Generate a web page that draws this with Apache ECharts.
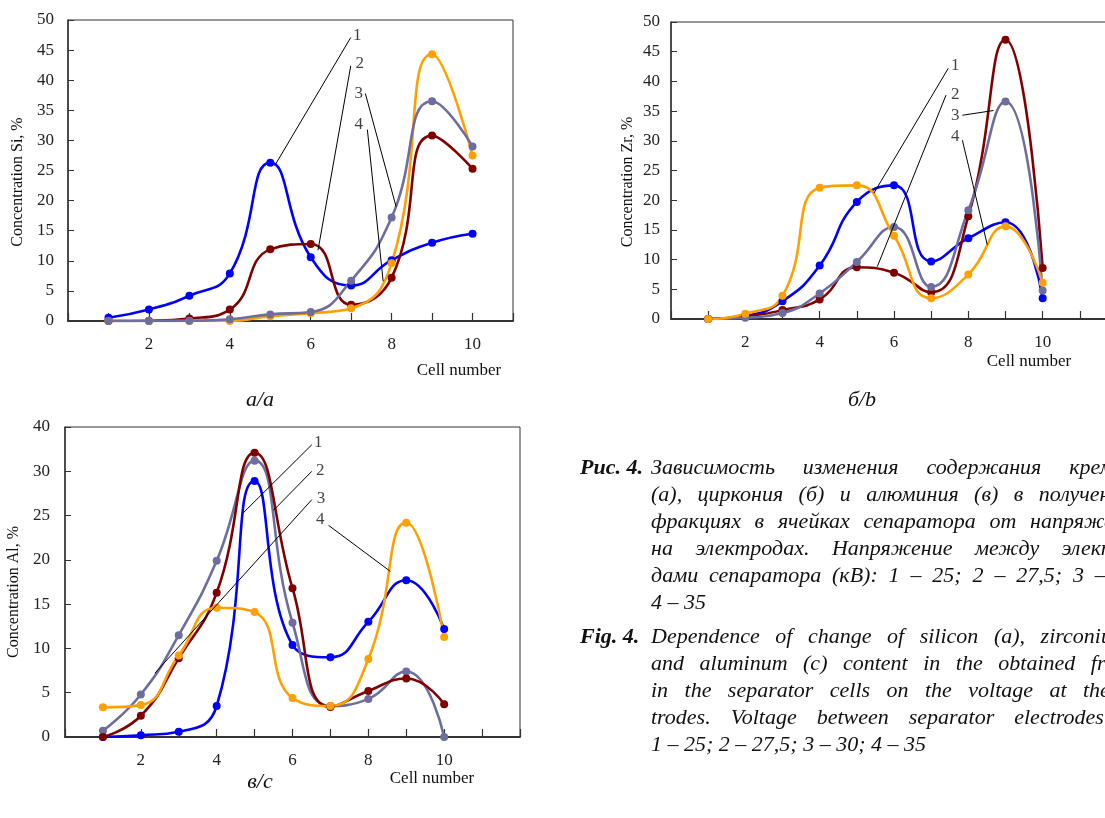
<!DOCTYPE html>
<html><head><meta charset="utf-8">
<script src="https://cdn.jsdelivr.net/npm/echarts/dist/echarts.min.js"></script>
<style>
html,body{margin:0;padding:0;width:1105px;height:818px;overflow:hidden;background:#fff;position:relative;}
#chart{position:absolute;left:0;top:0;width:1130px;height:818px;}
.cap{position:absolute;font-family:'Liberation Serif','Times New Roman',serif;font-style:italic;font-size:22px;line-height:27px;color:#111;white-space:nowrap;}
.lead{font-weight:bold;}
.j{text-align:justify;text-align-last:justify;white-space:normal;}
</style>
</head><body>
<div id="chart"></div>
<div class="cap lead" style="left:580px;top:453px;">Рис. 4.</div>
<div class="cap" style="left:651px;top:453px;width:495px;">
<div class="j">Зависимость изменения содержания кремния</div>
<div class="j">(а), циркония (б) и алюминия (в) в полученных</div>
<div class="j">фракциях в ячейках сепаратора от напряжения</div>
<div class="j">на электродах. Напряжение между электро-</div>
<div class="j">дами сепаратора (кВ): 1 – 25; 2 – 27,5; 3 – 30;</div>
<div>4 – 35</div>
</div>
<div class="cap lead" style="left:580px;top:622px;">Fig. 4.</div>
<div class="cap" style="left:651px;top:622px;width:518px;">
<div class="j">Dependence of change of silicon (a), zirconium (b)</div>
<div class="j">and aluminum (c) content in the obtained fractions</div>
<div class="j">in the separator cells on the voltage at the elec-</div>
<div class="j">trodes. Voltage between separator electrodes (kV):</div>
<div>1 – 25; 2 – 27,5; 3 – 30; 4 – 35</div>
</div>
<script>
// ---- data ----
const cells = [1, 2, 3, 4, 5, 6, 7, 8, 9, 10];
const xTickLabels = ['2', '4', '6', '8', '10'];
// (a) Si
const si1 = [0.55, 1.9, 4.2, 7.9, 26.3, 10.6, 5.9, 10.1, 13.0, 14.5];
const si2 = [0, 0.05, 0.4, 1.9, 11.9, 12.8, 2.7, 7.2, 30.8, 25.3];
const si3 = [0, 0, 0.05, 0.3, 1.1, 1.5, 6.7, 17.2, 36.5, 29.0];
const si4 = [0, 0, 0, 0, 0.8, 1.3, 2.1, 9.6, 44.3, 27.5];
// (b) Zr
const zr1 = [0, 0.5, 3.0, 9.0, 19.7, 22.5, 9.7, 13.6, 16.3, 3.5];
const zr2 = [0, 0.4, 1.5, 3.3, 8.7, 7.8, 4.5, 17.3, 47.0, 8.6];
const zr3 = [0, 0.2, 1.0, 4.3, 9.6, 15.5, 5.4, 18.3, 36.6, 4.8];
const zr4 = [0, 0.9, 3.9, 22.1, 22.5, 14.0, 3.5, 7.5, 15.6, 6.1];
// (c) Al  (axis drawn 0..35, top tick labelled "40" as in the source)
const al1 = [0, 0.2, 0.6, 3.5, 28.9, 10.4, 9.0, 13.0, 17.7, 12.2];
const al2 = [0, 2.4, 8.9, 16.3, 32.1, 16.8, 3.4, 5.2, 6.6, 3.7];
const al3 = [0.7, 4.8, 11.5, 19.9, 31.2, 12.9, 3.5, 4.3, 7.4, 0];
const al4 = [3.35, 3.6, 9.2, 14.6, 14.1, 4.4, 3.5, 8.8, 24.2, 11.3];
const yTickLabelsA = ['0','5','10','15','20','25','30','35','40','45','50'];
const yTickLabelsC = ['0','5','10','15','20','25','30','40'];
const curveNames = ['1', '2', '3', '4'];
// annotation leaders: [x1, y1, x2, y2] in data units; label anchors [x, y]
const leadA = [[6.99,47.1,5.11,25.8],[6.99,42.4,6.18,11.75],[7.35,37.8,8.11,19.0],[7.40,31.8,7.79,6.6]];
const labA = [[7.15,47.5],[7.21,42.7],[7.19,37.8],[7.19,32.6]];
const leadB = [[7.46,42.2,5.46,21.2],[7.40,37.7,5.55,8.8],[7.84,34.3,8.68,35.1],[7.84,30.1,8.51,12.5]];
const labB = [[7.65,42.6],[7.65,37.8],[7.65,34.3],[7.65,30.8]];
const leadC = [[6.51,33.0,4.70,25.3],[6.51,30.0,5.50,25.6],[6.51,26.8,2.37,7.2],[6.95,23.9,8.58,18.7]];
const labC = [[6.68,33.3],[6.73,30.1],[6.75,26.9],[6.73,24.5]];

// ---- styling ----
const colors = ['#0000ff', '#800000', '#6e6e9e', '#ffa000'];
const FONT = '"Liberation Serif", "Times New Roman", serif';
const TXT = '#222';

const chart = echarts.init(document.getElementById('chart'), null, {renderer: 'canvas'});

const grids = [
  {left: 68, top: 20, width: 445, height: 301},
  {left: 671, top: 22, width: 446, height: 297},
  {left: 65, top: 427, width: 455, height: 310}
];
const xMax = [11, 12, 12];
const yMax = [50, 50, 35];
const yLabels = [yTickLabelsA, yTickLabelsA, yTickLabelsC];
const yMargin = [14, 11, 15];
const drawOrder = [[0, 1, 3, 2], [0, 1, 2, 3], [0, 2, 1, 3]];

const xAxes = grids.map((g, i) => ({
  gridIndex: i, type: 'value', min: 0, max: xMax[i], interval: 1,
  axisLine: {lineStyle: {color: '#333', width: 2}},
  axisTick: {inside: true, length: 8, lineStyle: {color: '#333', width: 1.2}},
  splitLine: {show: false},
  axisLabel: {
    margin: 15, color: TXT, fontFamily: FONT, fontSize: 17,
    formatter: v => xTickLabels.includes(String(v)) ? String(v) : ''
  }
}));
const yAxes = grids.map((g, i) => ({
  gridIndex: i, type: 'value', min: 0, max: yMax[i], interval: 5,
  axisLine: {show: true, lineStyle: {color: '#333', width: 1.5}},
  axisTick: {show: true, inside: true, length: 6, lineStyle: {color: '#333'}},
  splitLine: {show: false},
  axisLabel: {
    margin: yMargin[i], color: TXT, fontFamily: FONT, fontSize: 17,
    formatter: v => yLabels[i][Math.round(v / 5)]
  }
}));

const seriesSets = [[si1, si2, si3, si4], [zr1, zr2, zr3, zr4], [al1, al2, al3, al4]];
const leads = [leadA, leadB, leadC];
const labs = [labA, labB, labC];
const series = [];
seriesSets.forEach((set, gi) => {
  drawOrder[gi].forEach((si) => {
    const arr = set[si];
    series.push({
      type: 'line', name: curveNames[si], xAxisIndex: gi, yAxisIndex: gi,
      data: cells.map((c, k) => [c, arr[k]]),
      smooth: 0.5, symbol: 'circle', symbolSize: 8,
      lineStyle: {color: colors[si], width: 2.6},
      itemStyle: {color: colors[si]},
      animation: false, z: 3
    });
  });
  series.push({
    type: 'lines', coordinateSystem: 'cartesian2d', xAxisIndex: gi, yAxisIndex: gi,
    data: leads[gi].map(l => ({coords: [[l[0], l[1]], [l[2], l[3]]]})),
    lineStyle: {color: '#000', width: 1, opacity: 1},
    symbol: ['none', 'none'], silent: true, animation: false, z: 4
  });
  series.push({
    type: 'scatter', xAxisIndex: gi, yAxisIndex: gi,
    data: labs[gi].map((p, k) => [p[0], p[1], curveNames[k]]),
    symbolSize: 1, itemStyle: {color: 'rgba(0,0,0,0)'},
    label: {show: true, position: 'inside', formatter: p => p.value[2],
      color: '#111', fontFamily: FONT, fontSize: 17},
    silent: true, animation: false, z: 5
  });
});

function txt(text, x, y, size, opts) {
  opts = opts || {};
  return {
    type: 'text', x: x, y: y, rotation: opts.rot || 0, silent: true,
    style: {text: text, x: 0, y: 0, fill: '#111',
      font: (opts.italic ? 'italic ' : '') + size + 'px ' + FONT,
      textAlign: 'center', textVerticalAlign: 'middle'}
  };
}

chart.setOption({
  animation: false,
  grid: grids.map(g => Object.assign({show: true, borderColor: '#333', borderWidth: 1, containLabel: false}, g)),
  xAxis: xAxes,
  yAxis: yAxes,
  series: series,
  graphic: [
    txt('Cell number', 459, 371, 17),
    txt('Cell number', 1029, 362, 17),
    txt('Cell number', 432, 779, 17),
    txt('Concentration Si, %', 18, 182, 16, {rot: Math.PI / 2}),
    txt('Concentration Zr, %', 628, 182, 16, {rot: Math.PI / 2}),
    txt('Concentration Al, %', 14, 592, 16, {rot: Math.PI / 2}),
    txt('а/a', 260, 400, 22, {italic: true}),
    txt('б/b', 862, 400, 22, {italic: true}),
    txt('в/c', 260, 782, 22, {italic: true})
  ]
});
</script>
</body></html>
